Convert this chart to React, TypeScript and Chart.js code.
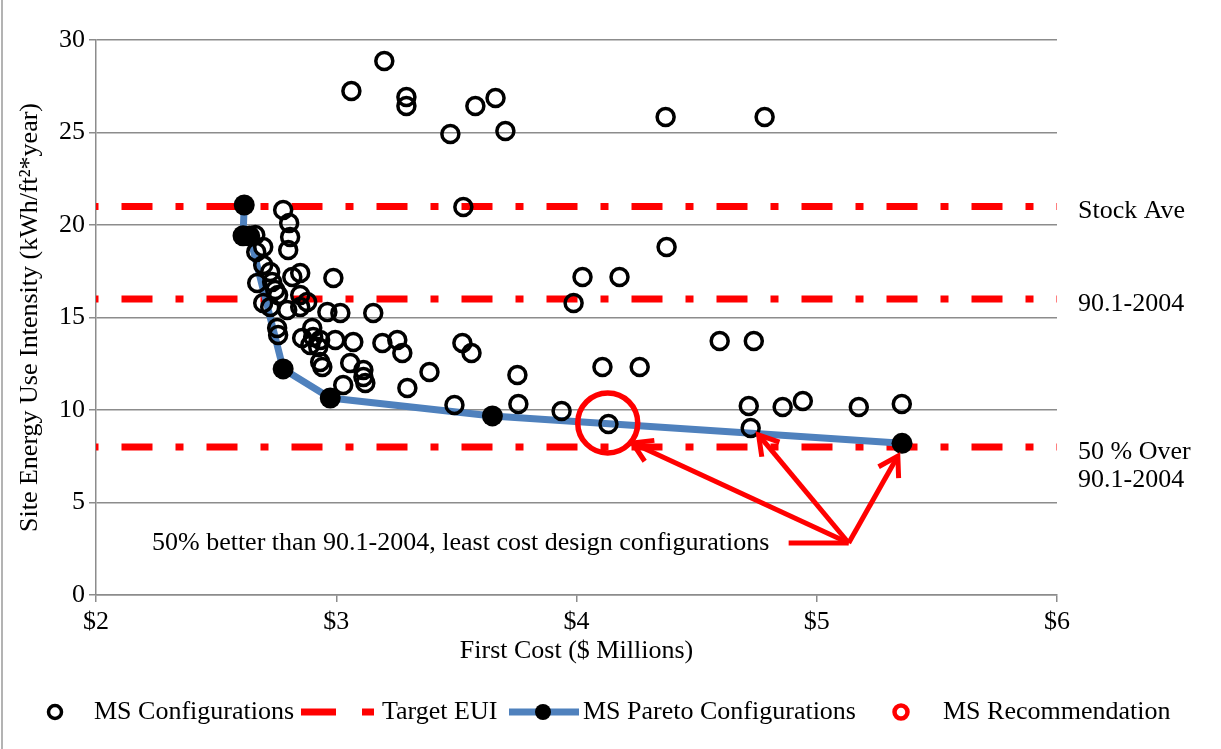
import React, { useEffect, useRef } from 'react';
import { Chart, registerables } from 'chart.js';

Chart.register(...registerables);

// ---------- data ----------
const configCost = [
  2.779, 2.804, 2.808, 2.800, 2.663, 2.696, 2.667, 2.696, 2.725, 2.850,
  2.817, 2.988, 2.671, 2.733, 2.746, 2.758, 2.850, 2.879, 2.696, 2.725,
  2.796, 2.850, 2.963, 3.017, 3.154, 2.754, 2.758, 2.858, 2.900, 2.904,
  2.933, 2.925, 2.996, 3.071, 3.192, 3.254, 3.275, 2.892, 2.933, 2.942,
  3.058, 3.113, 3.113, 3.121, 3.029, 3.296, 3.388, 3.525, 3.563, 3.754,
  3.492, 3.758, 3.938, 4.108, 4.263, 4.596, 4.738, 4.717, 4.725, 4.858,
  4.942, 5.175, 5.354, 4.133, 3.529, 4.375, 4.025, 4.179, 3.988, 3.063,
  3.200, 3.292, 3.292, 3.475, 3.579, 3.663, 3.704, 4.371, 4.783,
];
const configEUI = [
  20.81, 20.11, 19.35, 18.65, 19.46, 18.81, 18.54, 17.84, 17.46, 17.41,
  17.19, 17.14, 16.86, 16.92, 16.49, 16.22, 16.22, 15.84, 15.78, 15.57,
  15.41, 15.57, 15.30, 15.24, 15.24, 14.43, 14.05, 13.89, 14.43, 13.95,
  13.78, 13.41, 13.78, 13.68, 13.62, 13.78, 13.08, 13.51, 12.59, 12.32,
  12.54, 12.16, 11.78, 11.46, 11.35, 11.19, 12.05, 13.62, 13.08, 11.89,
  10.27, 10.32, 9.95, 12.32, 12.32, 13.73, 13.73, 10.22, 9.03, 10.16,
  10.49, 10.16, 10.32, 9.24, 20.97, 18.81, 17.19, 17.19, 15.78, 27.24,
  28.86, 26.92, 26.43, 24.92, 26.43, 26.86, 25.08, 25.84, 25.84,
];
const paretoCost = [2.617, 2.612, 2.640, 2.779, 2.975, 3.650, 5.355];
const paretoEUI = [21.08, 19.42, 19.40, 12.22, 10.65, 9.68, 8.20];
const recCost = [4.13];
const recEUI = [9.3];
const targetEUI = [21, 16, 8];
const targetNames = [['Stock Ave'], ['90.1-2004'], ['50 % Over', '90.1-2004']];
const xTickValues = [2, 3, 4, 5, 6];
const yTickValues = [0, 5, 10, 15, 20, 25, 30];
const legendLabels = ['MS Configurations', 'Target EUI', 'MS Pareto Configurations', 'MS Recommendation'];
const xTitle = 'First Cost ($ Millions)';
const yTitle = 'Site Energy Use Intensity (kWh/ft\u00B2*year)';
const calloutText = '50% better than 90.1-2004, least cost design configurations';
const calloutTextAt = { x: 2.233, y: 2.78 };
const calloutLineStart = { x: 4.883, y: 2.81 };
const calloutVertex = { x: 5.133, y: 2.81 };
const calloutTips = [
  { x: 4.233, y: 8.22 },
  { x: 4.758, y: 8.65 },
  { x: 5.3375, y: 7.51 },
];

const FONT = '"Liberation Serif", "Times New Roman", serif';
const RED = '#FF0000';
const BLUE = '#4F81BD';
const GRID = '#8C8C8C';

const overlayPlugin = {
  id: 'overlay',
  afterDatasetsDraw(chart: any) {
    const { ctx, scales, chartArea } = chart;
    const xs = scales.x;
    const ys = scales.y;
    ctx.save();
    // right-side target labels
    ctx.font = `26px ${FONT}`;
    ctx.fillStyle = '#000';
    ctx.textBaseline = 'middle';
    ctx.textAlign = 'left';
    targetEUI.forEach((t, i) => {
      const lines = targetNames[i];
      const yp = ys.getPixelForValue(t);
      ctx.fillText(lines[0], chartArea.right + 21, yp + 5);
      if (lines.length > 1) {
        ctx.fillText(lines[1], chartArea.right + 21, yp + 33);
      }
    });
    // callout text
    ctx.fillText(calloutText, xs.getPixelForValue(calloutTextAt.x), ys.getPixelForValue(calloutTextAt.y));
    // arrows
    ctx.strokeStyle = RED;
    ctx.lineWidth = 5;
    ctx.lineCap = 'butt';
    ctx.lineJoin = 'miter';
    const vx = xs.getPixelForValue(calloutVertex.x);
    const vy = ys.getPixelForValue(calloutVertex.y);
    ctx.beginPath();
    ctx.moveTo(xs.getPixelForValue(calloutLineStart.x), ys.getPixelForValue(calloutLineStart.y));
    ctx.lineTo(vx, vy);
    ctx.stroke();
    calloutTips.forEach((tp) => {
      const tx = xs.getPixelForValue(tp.x);
      const ty = ys.getPixelForValue(tp.y);
      ctx.beginPath();
      ctx.moveTo(vx, vy);
      ctx.lineTo(tx, ty);
      ctx.stroke();
      const ang = Math.atan2(ty - vy, tx - vx);
      const len = 22;
      const spread = 0.55;
      ctx.beginPath();
      ctx.moveTo(tx - len * Math.cos(ang - spread), ty - len * Math.sin(ang - spread));
      ctx.lineTo(tx, ty);
      ctx.lineTo(tx - len * Math.cos(ang + spread), ty - len * Math.sin(ang + spread));
      ctx.stroke();
    });
    ctx.restore();
  },
  afterDraw(chart: any) {
    const { ctx } = chart;
    ctx.save();
    // outer chart border (left edge visible)
    ctx.strokeStyle = '#9A9A9A';
    ctx.lineWidth = 1.5;
    ctx.beginPath();
    ctx.moveTo(2, 0);
    ctx.lineTo(2, 749);
    ctx.stroke();
    // legend
    const ly = 712;
    ctx.font = `26px ${FONT}`;
    ctx.fillStyle = '#000';
    ctx.textBaseline = 'middle';
    ctx.textAlign = 'left';
    // item 1
    ctx.strokeStyle = '#000';
    ctx.lineWidth = 3.5;
    ctx.beginPath();
    ctx.arc(55, ly, 6.5, 0, Math.PI * 2);
    ctx.stroke();
    ctx.fillText(legendLabels[0], 94, ly);
    // item 2
    ctx.strokeStyle = RED;
    ctx.lineWidth = 7;
    ctx.beginPath();
    ctx.moveTo(301, ly);
    ctx.lineTo(336, ly);
    ctx.stroke();
    ctx.fillStyle = RED;
    ctx.fillRect(362, ly - 3.5, 12, 7);
    ctx.fillStyle = '#000';
    ctx.fillText(legendLabels[1], 382, ly);
    // item 3
    ctx.strokeStyle = BLUE;
    ctx.lineWidth = 7;
    ctx.beginPath();
    ctx.moveTo(509, ly);
    ctx.lineTo(579, ly);
    ctx.stroke();
    ctx.beginPath();
    ctx.arc(543, ly, 8, 0, Math.PI * 2);
    ctx.fill();
    ctx.fillText(legendLabels[2], 583, ly);
    // item 4
    ctx.strokeStyle = RED;
    ctx.lineWidth = 4.5;
    ctx.beginPath();
    ctx.arc(901, ly, 6.5, 0, Math.PI * 2);
    ctx.stroke();
    ctx.fillText(legendLabels[3], 943, ly);
    ctx.restore();
  },
};

export default function App() {
  const canvasRef = useRef<HTMLCanvasElement | null>(null);

  useEffect(() => {
    document.body.style.margin = '0';
    const canvas = canvasRef.current;
    if (!canvas) return;

    const targetDatasets = targetEUI.map((t) => ({
      type: 'line' as const,
      label: legendLabels[1],
      data: [
        { x: xTickValues[0], y: t },
        { x: xTickValues[xTickValues.length - 1], y: t },
      ],
      borderColor: RED,
      borderWidth: 7,
      borderDash: [31, 23, 8, 23],
      borderDashOffset: 59.5,
      borderCapStyle: 'butt' as const,
      pointRadius: 0,
      fill: false,
      order: 5,
    }));

    const chart = new Chart(canvas, {
      type: 'scatter',
      data: {
        datasets: [
          ...targetDatasets,
          {
            type: 'line',
            label: legendLabels[2],
            data: paretoCost.map((c, i) => ({ x: c, y: paretoEUI[i] })),
            borderColor: BLUE,
            borderWidth: 7,
            borderJoinStyle: 'round',
            pointRadius: 0,
            tension: 0,
            fill: false,
            order: 4,
          } as any,
          {
            type: 'scatter',
            label: legendLabels[0],
            data: configCost.map((c, i) => ({ x: c, y: configEUI[i] })),
            pointRadius: 8.5,
            borderWidth: 3.5,
            borderColor: '#000',
            backgroundColor: 'rgba(0,0,0,0)',
            order: 3,
          },
          {
            type: 'scatter',
            label: legendLabels[2] + ' points',
            data: paretoCost.map((c, i) => ({ x: c, y: paretoEUI[i] })),
            pointRadius: 10.5,
            borderWidth: 0,
            backgroundColor: '#000',
            order: 2,
          },
          {
            type: 'scatter',
            label: legendLabels[3],
            data: recCost.map((c, i) => ({ x: c, y: recEUI[i] })),
            pointRadius: 30,
            borderWidth: 5.5,
            borderColor: RED,
            backgroundColor: 'rgba(0,0,0,0)',
            order: 1,
          },
        ],
      },
      options: {
        responsive: false,
        animation: false,
        devicePixelRatio: 1,
        events: [],
        layout: { padding: { top: 40, right: 164, bottom: 79, left: 0 } },
        plugins: {
          legend: { display: false },
          tooltip: { enabled: false },
          title: { display: false },
        },
        scales: {
          x: {
            type: 'linear',
            min: xTickValues[0],
            max: xTickValues[xTickValues.length - 1],
            afterBuildTicks: (s: any) => {
              s.ticks = xTickValues.map((v) => ({ value: v }));
            },
            afterFit: (s: any) => {
              s.height = 75;
            },
            ticks: {
              callback: (v: any) => '$' + v,
              font: { family: FONT, size: 26 },
              color: '#000',
              padding: 5,
              maxRotation: 0,
            },
            grid: { drawOnChartArea: false, tickLength: 7, color: GRID, lineWidth: 1.5 },
            border: { color: GRID, width: 1.5 },
            title: {
              display: true,
              text: xTitle,
              font: { family: FONT, size: 26 },
              color: '#000',
              padding: { top: 0, bottom: 3 },
            },
          },
          y: {
            type: 'linear',
            min: yTickValues[0],
            max: yTickValues[yTickValues.length - 1],
            afterBuildTicks: (s: any) => {
              s.ticks = yTickValues.map((v) => ({ value: v }));
            },
            afterFit: (s: any) => {
              s.width = 96;
            },
            ticks: {
              font: { family: FONT, size: 26 },
              color: '#000',
              padding: 4,
            },
            grid: { color: GRID, lineWidth: 1.5, tickLength: 7 },
            border: { color: GRID, width: 1.5 },
            title: {
              display: true,
              text: yTitle,
              font: { family: FONT, size: 26 },
              color: '#000',
              padding: { top: 15, bottom: 0 },
            },
          },
        },
      },
      plugins: [overlayPlugin],
    } as any);

    return () => {
      chart.destroy();
    };
  }, []);

  return (
    <div style={{ width: 1221, height: 749, position: 'relative' }}>
      <canvas ref={canvasRef} width={1221} height={749} style={{ display: 'block' }} />
    </div>
  );
}
